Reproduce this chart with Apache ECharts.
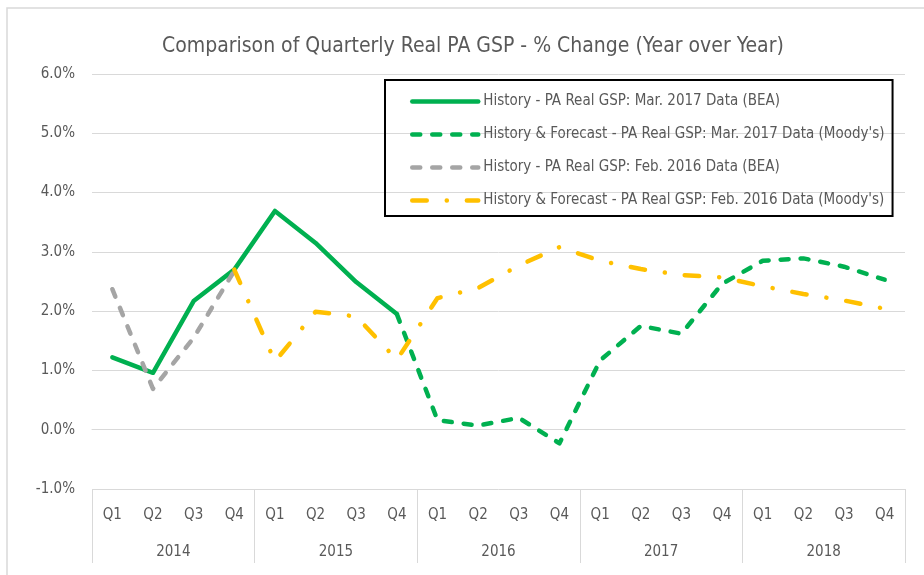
<!DOCTYPE html>
<html>
<head>
<meta charset="utf-8">
<script src="https://cdn.jsdelivr.net/npm/echarts@6/dist/echarts.min.js"></script>
<style>
  html, body { margin: 0; padding: 0; background: #fff; }
  #main { width: 924px; height: 575px; }
</style>
</head>
<body>
<div id="main"></div>
<script>
var quarters = ['Q1', 'Q2', 'Q3', 'Q4', 'Q1', 'Q2', 'Q3', 'Q4', 'Q1', 'Q2', 'Q3', 'Q4',
                'Q1', 'Q2', 'Q3', 'Q4', 'Q1', 'Q2', 'Q3', 'Q4'];
var years = ['2014', '2015', '2016', '2017', '2018'];

// History - Mar. 2017 (BEA): 2014 Q1 .. 2015 Q4
var bea2017 = [1.22, 0.96, 2.17, 2.70, 3.69, 3.15, 2.49, 1.95];
// History & Forecast - Mar. 2017 (Moody's): 2015 Q4 .. 2018 Q4
var moodys2017 = [1.95, 0.16, 0.07, 0.20, -0.23, 1.17, 1.75, 1.62, 2.46, 2.85, 2.89, 2.75, 2.53];
// History - Feb. 2016 (BEA): 2014 Q1 .. 2014 Q4
var bea2016 = [2.37, 0.69, 1.55, 2.68];
// History & Forecast - Feb. 2016 (Moody's): 2014 Q4 .. 2018 Q4
var moodys2016 = [2.70, 1.15, 1.99, 1.91, 1.18, 2.22, 2.39, 2.77, 3.08, 2.85, 2.71, 2.61,
                  2.57, 2.42, 2.29, 2.18, 2.04];

// put a short series at its starting quarter, blanks elsewhere
function place(arr, start) {
  var out = [];
  for (var i = 0; i < quarters.length; i++) {
    var k = i - start;
    out.push(k >= 0 && k < arr.length ? arr[k] : null);
  }
  return out;
}

var font = '"Liberation Sans Narrow", "DejaVu Sans Condensed", "Liberation Sans", sans-serif';
var txt = '#595959';
var grey = '#d9d9d9';

var myChart = echarts.init(document.getElementById('main'));
myChart.setOption({
  animation: false,
  textStyle: { fontFamily: font },
  title: {
    text: 'Comparison of Quarterly Real PA GSP - % Change (Year over Year)',
    left: 157,
    top: 31,
    textStyle: { fontFamily: font, fontSize: 21, fontWeight: 'normal', color: txt }
  },
  graphic: [{
    type: 'rect',
    shape: { x: 7, y: 8, width: 1000, height: 700 },
    style: { fill: 'none', stroke: grey, lineWidth: 1.5 },
    silent: true
  }],
  legend: {
    orient: 'vertical',
    left: 385,
    top: 80,
    padding: [14, 8, 8, 25],
    itemWidth: 66,
    itemHeight: 14,
    itemGap: 18,
    borderColor: '#000',
    borderWidth: 2,
    itemStyle: { opacity: 0 },
    lineStyle: { width: 4.5, cap: 'round' },
    textStyle: { fontFamily: font, fontSize: 15, color: txt },
    data: [
      'History - PA Real GSP: Mar. 2017 Data (BEA)',
      "History & Forecast - PA Real GSP: Mar. 2017 Data (Moody's)",
      'History - PA Real GSP: Feb. 2016 Data (BEA)',
      "History & Forecast - PA Real GSP: Feb. 2016 Data (Moody's)"
    ]
  },
  grid: { left: 92, right: 19, top: 74, bottom: 86 },
  xAxis: [{
    type: 'category',
    data: quarters,
    boundaryGap: true,
    axisLine: { lineStyle: { color: grey, width: 1 } },
    axisTick: { show: false },
    axisLabel: { color: txt, fontSize: 15, margin: 19, interval: 0 }
  }, {
    type: 'category',
    data: years,
    position: 'bottom',
    boundaryGap: true,
    axisLine: { show: false },
    axisTick: { show: true, length: 74, lineStyle: { color: grey, width: 1 } },
    axisLabel: { color: txt, fontSize: 15, margin: 56, interval: 0 }
  }],
  yAxis: {
    type: 'value',
    min: -1,
    max: 6,
    interval: 1,
    axisLine: { show: false },
    axisTick: { show: false },
    splitLine: { lineStyle: { color: grey, width: 1 } },
    axisLabel: {
      color: txt, fontSize: 15, margin: 17,
      formatter: function (v) { return v.toFixed(1) + '%'; }
    }
  },
  series: [{
    name: 'History - PA Real GSP: Mar. 2017 Data (BEA)',
    type: 'line',
    data: place(bea2017, 0),
    symbol: 'none',
    color: '#00B050',
    lineStyle: { color: '#00B050', width: 4.5, cap: 'round', join: 'round' }
  }, {
    name: "History & Forecast - PA Real GSP: Mar. 2017 Data (Moody's)",
    type: 'line',
    data: place(moodys2017, 7),
    symbol: 'none',
    color: '#00B050',
    lineStyle: { color: '#00B050', width: 4.5, type: [8, 12], cap: 'round', join: 'round' }
  }, {
    name: 'History - PA Real GSP: Feb. 2016 Data (BEA)',
    type: 'line',
    data: place(bea2016, 0),
    symbol: 'none',
    color: '#A5A5A5',
    lineStyle: { color: '#A5A5A5', width: 4.5, type: [8, 12], cap: 'round', join: 'round' }
  }, {
    name: "History & Forecast - PA Real GSP: Feb. 2016 Data (Moody's)",
    type: 'line',
    data: place(moodys2016, 3),
    symbol: 'none',
    color: '#FFC000',
    lineStyle: { color: '#FFC000', width: 4.5, type: [14.5, 20, 0.1, 20], cap: 'round', join: 'round' }
  }]
});
</script>
</body>
</html>
